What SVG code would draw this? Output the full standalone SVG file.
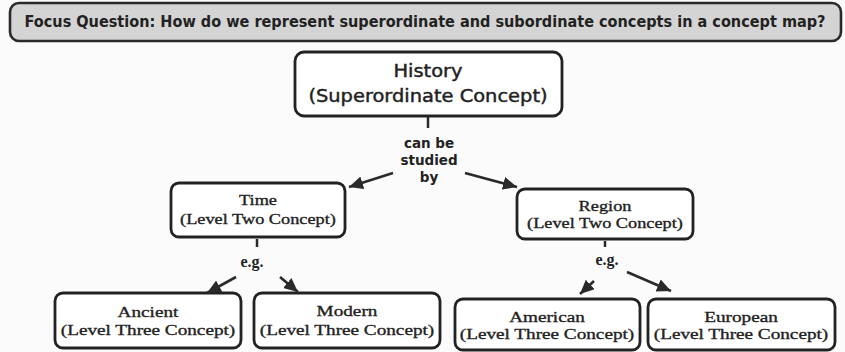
<svg xmlns="http://www.w3.org/2000/svg" width="845" height="352" viewBox="0 0 845 352">
<defs>
<marker id="ah" markerUnits="userSpaceOnUse" markerWidth="15" markerHeight="13" refX="14" refY="6.5" orient="auto">
<path d="M0,0 L14,6.5 L0,13 Z" fill="#2a2a2a"/>
</marker>
<style>
.box{fill:#ffffff;stroke:#222;stroke-width:2.8}
.focus{fill:#d4d4d4;stroke:#2a2a2a;stroke-width:2.6}
.sans{font-family:"DejaVu Sans","Liberation Sans",sans-serif;fill:#222;text-anchor:middle}
.med{stroke:#222;stroke-width:0.45}
.serif{font-family:"Liberation Serif","DejaVu Serif",serif;fill:#222;text-anchor:middle;stroke:#222;stroke-width:0.35}
.lvl2{font-size:15px}
.lvl3{font-size:15.5px}
.conn{stroke:#2a2a2a;stroke-width:2.5;fill:none}
.arr{stroke:#2a2a2a;stroke-width:2.6;fill:none;marker-end:url(#ah)}
.lbl{font-family:"DejaVu Sans","Liberation Sans",sans-serif;font-size:13.5px;font-weight:bold;fill:#222;text-anchor:middle}
.eg{font-family:"Liberation Serif","DejaVu Serif",serif;font-size:16px;font-weight:bold;fill:#222;text-anchor:middle}
</style>
</defs>
<rect width="845" height="352" fill="#fbfbfb"/>

<g id="focus-question">
<rect class="focus" x="10" y="3" width="831" height="38" rx="9"/>
<text class="sans" font-size="15" font-weight="bold" textLength="890" lengthAdjust="spacingAndGlyphs" transform="translate(425,27) scale(0.9,1)">Focus Question: How do we represent superordinate and subordinate concepts in a concept map?</text>
</g>

<g id="history">
<rect class="box" x="295" y="52" width="267" height="64" rx="9"/>
<text class="sans med" font-size="18" transform="translate(428,77) scale(1.08,1)">History</text>
<text class="sans med" font-size="18" transform="translate(428,102) scale(1.08,1)">(Superordinate Concept)</text>
</g>

<g id="time">
<rect class="box" x="171" y="183" width="174" height="54" rx="8"/>
<text class="serif lvl2" transform="translate(258,205) scale(1.22,1)">Time</text>
<text class="serif lvl2" transform="translate(258,224) scale(1.22,1)">(Level Two Concept)</text>
</g>

<g id="region">
<rect class="box" x="517" y="189" width="176" height="50" rx="8"/>
<text class="serif lvl2" transform="translate(605,211) scale(1.22,1)">Region</text>
<text class="serif lvl2" transform="translate(605,228) scale(1.22,1)">(Level Two Concept)</text>
</g>

<g id="ancient">
<rect class="box" x="55" y="293" width="186" height="55" rx="8"/>
<text class="serif lvl3" transform="translate(148,317) scale(1.24,1)">Ancient</text>
<text class="serif lvl3" transform="translate(148,335) scale(1.24,1)">(Level Three Concept)</text>
</g>

<g id="modern">
<rect class="box" x="254" y="293" width="186" height="55" rx="8"/>
<text class="serif lvl3" transform="translate(347,316) scale(1.24,1)">Modern</text>
<text class="serif lvl3" transform="translate(347,335) scale(1.24,1)">(Level Three Concept)</text>
</g>

<g id="american">
<rect class="box" x="455" y="299" width="185" height="51" rx="8"/>
<text class="serif lvl3" transform="translate(547,322) scale(1.24,1)">American</text>
<text class="serif lvl3" transform="translate(547,339) scale(1.24,1)">(Level Three Concept)</text>
</g>

<g id="european">
<rect class="box" x="648" y="299" width="187" height="51" rx="8"/>
<text class="serif lvl3" transform="translate(741,322) scale(1.24,1)">European</text>
<text class="serif lvl3" transform="translate(741,339) scale(1.24,1)">(Level Three Concept)</text>
</g>

<g id="connectors">
<line class="conn" x1="428" y1="117" x2="428" y2="128"/>
<text class="lbl" x="429" y="148">can be</text>
<text class="lbl" x="429" y="165">studied</text>
<text class="lbl" x="429" y="182">by</text>
<line class="arr" x1="393" y1="173" x2="349" y2="187"/>
<line class="arr" x1="465" y1="173" x2="517" y2="187"/>

<line class="conn" x1="257" y1="239" x2="257" y2="247"/>
<text class="eg" x="252" y="267">e.g.</text>
<line class="arr" x1="236" y1="277" x2="207" y2="293"/>
<line class="arr" x1="280" y1="277" x2="298" y2="292"/>

<line class="conn" x1="605" y1="241" x2="605" y2="247"/>
<text class="eg" x="607" y="265">e.g.</text>
<line class="arr" x1="594" y1="281" x2="580" y2="294"/>
<line class="arr" x1="627" y1="272" x2="671" y2="291"/>
</g>
</svg>
